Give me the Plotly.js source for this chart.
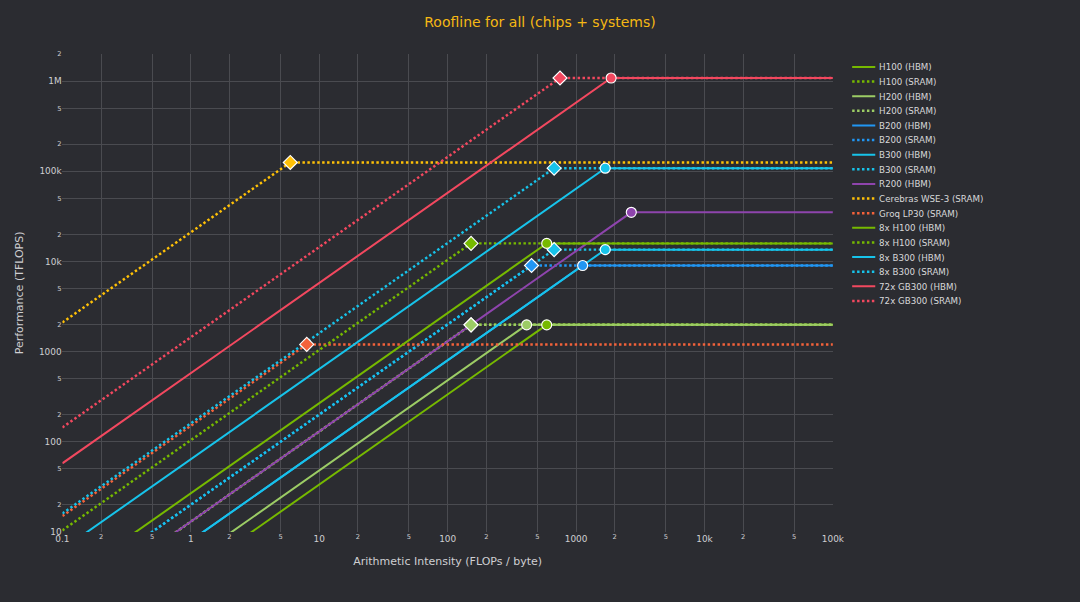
<!DOCTYPE html>
<html>
<head>
<meta charset="utf-8">
<script src="https://cdn.plot.ly/plotly-3.0.1.min.js"></script>
<style>
html,body{margin:0;padding:0;background:#2b2c31;overflow:hidden;width:1080px;height:602px;}
#chart{width:1403px;height:782px;transform:scale(0.76978);transform-origin:0 0;}
</style>
</head>
<body>
<div id="chart"></div>
<script>
// Systems and their roofline parameters
const names = ["H100 (HBM)", "H100 (SRAM)", "H200 (HBM)", "H200 (SRAM)", "B200 (HBM)", "B200 (SRAM)",
  "B300 (HBM)", "B300 (SRAM)", "R200 (HBM)", "Cerebras WSE-3 (SRAM)", "Groq LP30 (SRAM)",
  "8x H100 (HBM)", "8x H100 (SRAM)", "8x B300 (HBM)", "8x B300 (SRAM)", "72x GB300 (HBM)", "72x GB300 (SRAM)"];
const peakTflops = [1979, 1979, 1979, 1979, 9000, 9000, 13500, 13500, 35000, 125000, 1200,
  15832, 15832, 108000, 108000, 1080000, 1080000];
const bandwidthTBs = [3.35, 13, 4.8, 13, 8, 20, 8, 20, 13, 21000, 150, 26.8, 104, 64, 160, 576, 1440];
const memType = ["HBM", "SRAM", "HBM", "SRAM", "HBM", "SRAM", "HBM", "SRAM", "HBM", "SRAM", "SRAM",
  "HBM", "SRAM", "HBM", "SRAM", "HBM", "SRAM"];
const colors = ["#76b900", "#76b900", "#9ccc65", "#9ccc65", "#2196f3", "#2196f3", "#17c3ea", "#17c3ea",
  "#8e44ad", "#ffc107", "#f4623a", "#76b900", "#76b900", "#17c3ea", "#17c3ea", "#f2485f", "#f2485f"];
const xMin = 0.1, xMax = 100000;

const lineTraces = [], markerTraces = [];
names.forEach((n, i) => {
  const ridge = peakTflops[i] / bandwidthTBs[i];
  const sram = memType[i] === "SRAM";
  lineTraces.push({
    type: "scatter", mode: "lines", name: n,
    x: [xMin, ridge, xMax],
    y: [bandwidthTBs[i] * xMin, peakTflops[i], peakTflops[i]],
    line: {color: colors[i], width: sram ? 3.2 : 2.6, dash: sram ? "dot" : "solid"},
    hoverinfo: "skip"
  });
  markerTraces.push({
    type: "scatter", mode: "markers", showlegend: false, name: n,
    x: [ridge], y: [peakTflops[i]],
    marker: {color: colors[i], size: sram ? 14 : 13, symbol: sram ? "diamond" : "circle",
      line: {color: "#ffffff", width: 1.5}}
  });
});

const axisCommon = {
  type: "log", dtick: "D2", gridcolor: "#4a4b50", gridwidth: 1.3, zeroline: false,
  showline: false, ticks: "", tickfont: {size: 11.6, color: "#cfcfd2"}
};

const layout = {
  width: 1403, height: 782,
  paper_bgcolor: "#2b2c31", plot_bgcolor: "#2b2c31",
  font: {family: "DejaVu Sans, Verdana, sans-serif", color: "#cfcfd2"},
  margin: {l: 81, r: 321, t: 70, b: 91},
  title: {text: "Roofline for all (chips + systems)", x: 0.5, xref: "container", xanchor: "center",
    y: 0.964, yref: "container", yanchor: "middle",
    font: {size: 18.2, color: "#f5b814"}},
  xaxis: Object.assign({}, axisCommon, {range: [-1, 5],
    title: {text: "Arithmetic Intensity (FLOPs / byte)", font: {size: 14.3, color: "#cfcfd2"}, standoff: 18}}),
  yaxis: Object.assign({}, axisCommon, {range: [1, Math.log10(2e6)],
    title: {text: "Performance (TFLOPS)", font: {size: 14.3, color: "#cfcfd2"}, standoff: 16}}),
  legend: {x: 1.02, y: 0.996, xanchor: "left", yanchor: "top", font: {size: 11.3, color: "#d8d8da"},
    bgcolor: "rgba(0,0,0,0)", tracegroupgap: 0},
  showlegend: true
};

Plotly.newPlot("chart", lineTraces.concat(markerTraces), layout, {displayModeBar: false, staticPlot: true});
</script>
</body>
</html>
